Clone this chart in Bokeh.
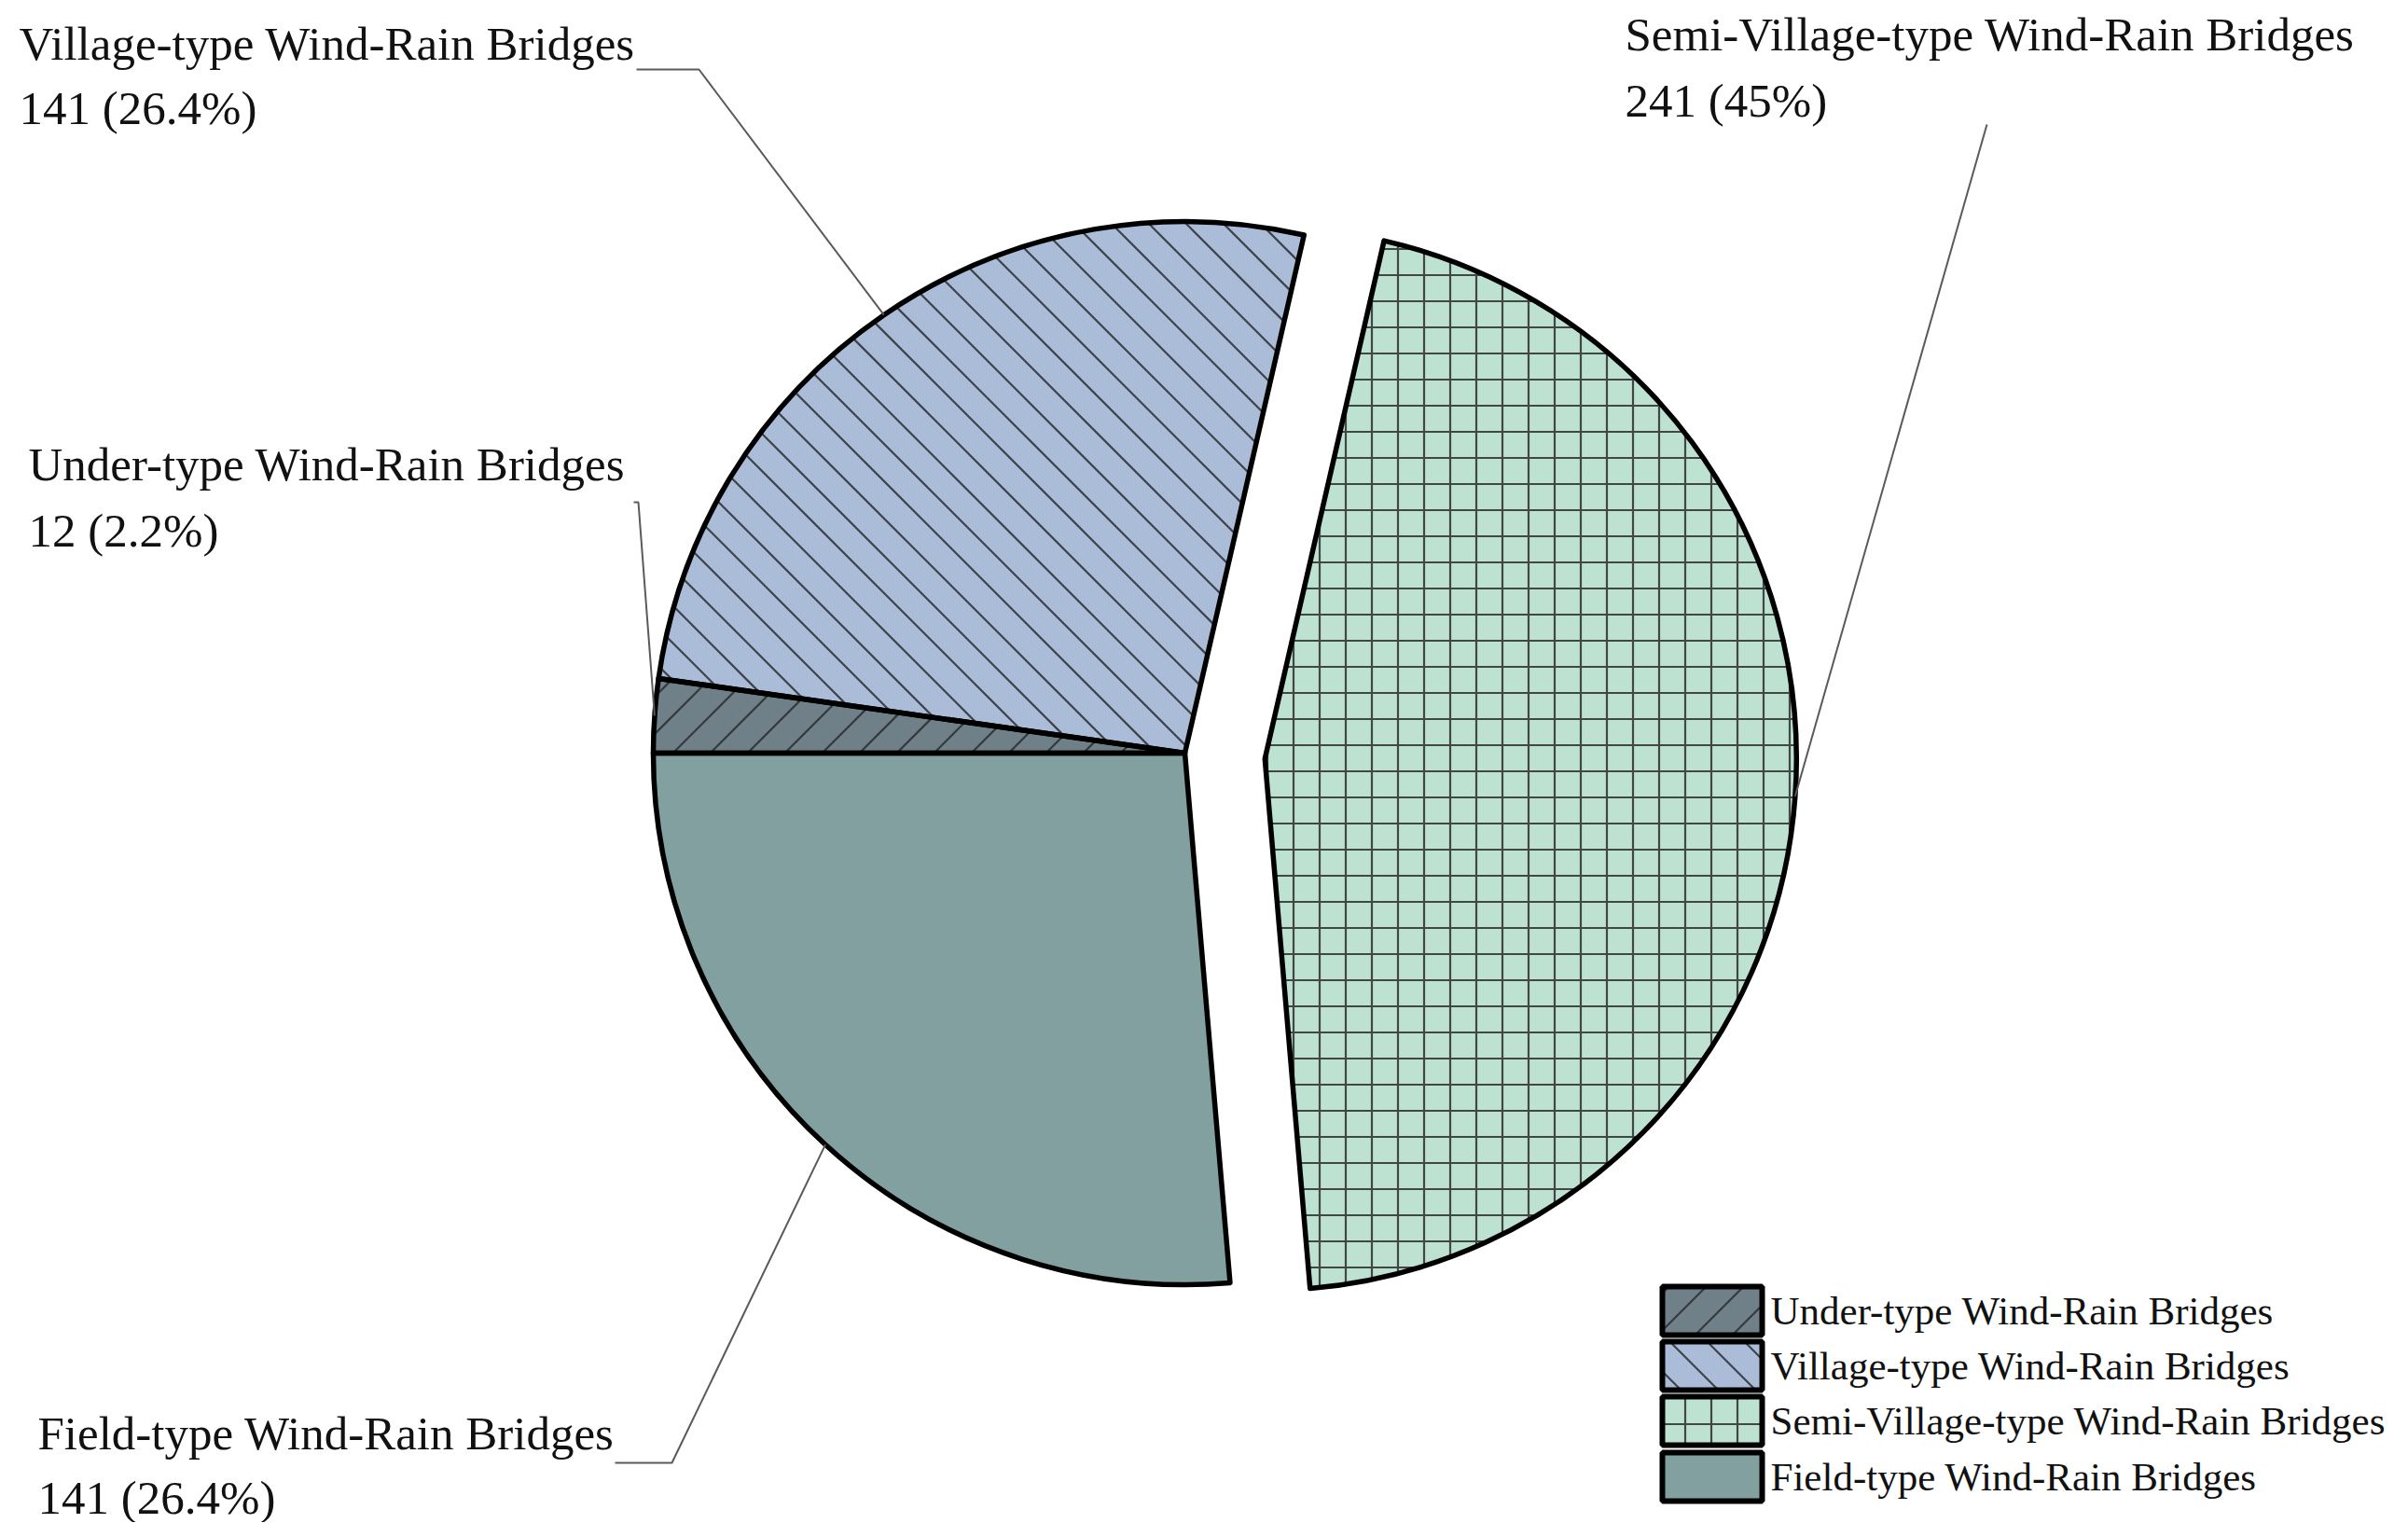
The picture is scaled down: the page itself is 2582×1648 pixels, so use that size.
import math
from bokeh.plotting import figure
from bokeh.models import Range1d, ColumnDataSource
from bokeh.core.properties import value
from bokeh.embed import file_html
from bokeh.resources import INLINE

# ---------------- data ----------------
categories = [
    "Under-type Wind-Rain Bridges",
    "Village-type Wind-Rain Bridges",
    "Semi-Village-type Wind-Rain Bridges",
    "Field-type Wind-Rain Bridges",
]
counts = [12, 141, 241, 141]

# ---------------- styles ----------------
fills = ["#6f8089", "#aabcd8", "#bee2d1", "#83a0a0"]
# hatch kind per slice: "/" and "\" drawn as 45-degree line families, "+" grid
hatch_kind = ["/", "\\", "+", None]
DIAG_SPACING = 40 / math.sqrt(2)   # perpendicular spacing of diagonal hatch
GRID_SCALE = 28
HATCH_COLOR = "#2b2b2b"
HATCH_W = 2.2
explode_px = [0, 0, 86, 0]

FONT = value("Liberation Serif")
LABEL_SIZE = "51px"
LEGEND_SIZE = "43px"

# page geometry (page pixel coords, y down)
CX, CY, R = 1270, 807, 570
W, H = 2566, 1632


def Y(y):
    return 1648 - y


p = figure(width=W, height=H, x_range=Range1d(0, 2566), y_range=Range1d(16, 1648),
           output_backend="svg", toolbar_location=None,
           x_axis_location=None, y_axis_location=None, min_border=0)
p.grid.visible = False
p.outline_line_color = None
p.background_fill_color = "white"
p.border_fill_color = "white"

total = sum(counts)
starts, ends, mids, xs, ys = [], [], [], [], []
a = math.pi
for c, off in zip(counts, explode_px):
    e = a - 2 * math.pi * c / total
    m = (a + e) / 2
    starts.append(a)
    ends.append(e)
    mids.append(m)
    xs.append(CX + off * math.cos(m))
    ys.append(Y(CY) + off * math.sin(m))
    a = e


# ---------- hatch helpers ----------
def clip_t(constraints, t0, t1):
    """constraints: list of (A, B) meaning A + B t >= 0"""
    for A, B in constraints:
        if abs(B) < 1e-12:
            if A < 0:
                return None
            continue
        t = -A / B
        if B > 0:
            t0 = max(t0, t)
        else:
            t1 = min(t1, t)
    if t1 <= t0:
        return None
    return t0, t1


def cross(u, v):
    return u[0] * v[1] - u[1] * v[0]


def diag_family(direction, bbox_center, extent):
    d = (1 / math.sqrt(2), direction / math.sqrt(2))
    n = (-d[1], d[0])
    cn = n[0] * bbox_center[0] + n[1] * bbox_center[1]
    k0 = math.floor((cn - extent) / DIAG_SPACING)
    k1 = math.ceil((cn + extent) / DIAG_SPACING)
    for k in range(k0, k1 + 1):
        off = k * DIAG_SPACING
        yield (n[0] * off, n[1] * off), d


def wedge_hatch(cx, cy, r, a_start, a_end, direction):
    segs_x, segs_y = [], []
    ua = (math.cos(a_start), math.sin(a_start))
    ue = (math.cos(a_end), math.sin(a_end))
    for p0, d in diag_family(direction, (cx, cy), r):
        q = (p0[0] - cx, p0[1] - cy)
        bq = d[0] * q[0] + d[1] * q[1]
        disc = bq * bq - (q[0] ** 2 + q[1] ** 2) + r * r
        if disc <= 0:
            continue
        sq = math.sqrt(disc)
        cons = [(cross(ue, q), cross(ue, d)), (-cross(ua, q), -cross(ua, d))]
        res = clip_t(cons, -bq - sq, -bq + sq)
        if res is None:
            continue
        t0, t1 = res
        segs_x.append([p0[0] + d[0] * t0, p0[0] + d[0] * t1])
        segs_y.append([p0[1] + d[1] * t0, p0[1] + d[1] * t1])
    return segs_x, segs_y


def rect_hatch(x0, x1, y0, y1, direction):
    segs_x, segs_y = [], []
    c = ((x0 + x1) / 2, (y0 + y1) / 2)
    ext = math.hypot(x1 - x0, y1 - y0)
    for p0, d in diag_family(direction, c, ext):
        cons = []
        for axis, lo, hi in ((0, x0, x1), (1, y0, y1)):
            cons.append((p0[axis] - lo, d[axis]))
            cons.append((hi - p0[axis], -d[axis]))
        res = clip_t(cons, -1e6, 1e6)
        if res is None:
            continue
        t0, t1 = res
        segs_x.append([p0[0] + d[0] * t0, p0[0] + d[0] * t1])
        segs_y.append([p0[1] + d[1] * t0, p0[1] + d[1] * t1])
    return segs_x, segs_y


# ---------- pie ----------
src = ColumnDataSource(dict(x=xs, y=ys, start=starts, end=ends, fill=fills,
                            hatch=[("+" if k == "+" else " ") for k in hatch_kind]))
p.wedge(x="x", y="y", radius=R, start_angle="start", end_angle="end",
        direction="clock", source=src, fill_color="fill", line_color=None,
        hatch_pattern="hatch", hatch_scale=GRID_SCALE, hatch_color=HATCH_COLOR,
        hatch_weight=HATCH_W, hatch_alpha=0.85)

hx, hy = [], []
for i, k in enumerate(hatch_kind):
    if k in ("/", "\\"):
        sx, sy = wedge_hatch(xs[i], ys[i], R - 1, starts[i], ends[i], 1 if k == "/" else -1)
        hx += sx
        hy += sy

# legend geometry
leg_rows = [1405, 1464, 1523, 1583]
bx0, bx1, bh = 1782, 1889, 26
for i, k in enumerate(hatch_kind):
    if k in ("/", "\\"):
        r = leg_rows[i]
        sx, sy = rect_hatch(bx0, bx1, Y(r + bh), Y(r - bh), 1 if k == "/" else -1)
        hx += sx
        hy += sy

p.multi_line(xs=hx, ys=hy, line_color=HATCH_COLOR, line_width=HATCH_W,
             line_alpha=0.85, line_cap="butt")

p.wedge(x="x", y="y", radius=R, start_angle="start", end_angle="end",
        direction="clock", source=src, fill_color=None,
        line_color="black", line_width=5.5, line_join="round")

# leader lines (label anchor points, page coords) -> slice edge at mid angle
leader_starts = [
    [(679, 538), (684, 538)],
    [(682, 74), (749, 74)],
    [(2130, 133)],
    [(659, 1568), (720, 1568)],
]
lx, ly = [], []
for i, pts in enumerate(leader_starts):
    ex = xs[i] + R * math.cos(mids[i])
    ey = ys[i] + R * math.sin(mids[i])
    lx.append([pt[0] for pt in pts] + [ex])
    ly.append([Y(pt[1]) for pt in pts] + [ey])
p.multi_line(xs=lx, ys=ly, line_color="#5a5a5a", line_width=2)

# data labels
label_pos = [(30, 497, 568), (20, 46, 115), (1742, 36, 107), (40, 1536, 1605)]
tx, ty, tt = [], [], []
for cat, cnt, (x0, y1, y2) in zip(categories, counts, label_pos):
    pct = round(100 * cnt / total, 1)
    tx += [x0, x0]
    ty += [Y(y1), Y(y2)]
    tt += [cat, f"{cnt} ({pct:g}%)"]
p.text(x=tx, y=ty, text=tt, text_font=FONT, text_font_size=LABEL_SIZE,
       text_color="#111111", text_baseline="middle", text_align="left")

# legend boxes
p.quad(left=[bx0] * 4, right=[bx1] * 4,
       top=[Y(r - bh) for r in leg_rows], bottom=[Y(r + bh) for r in leg_rows],
       fill_color=fills, line_color=None,
       hatch_pattern=[("+" if k == "+" else " ") for k in hatch_kind],
       hatch_scale=GRID_SCALE, hatch_color=HATCH_COLOR,
       hatch_weight=HATCH_W, hatch_alpha=0.85, level="underlay")
p.quad(left=[bx0] * 4, right=[bx1] * 4,
       top=[Y(r - bh) for r in leg_rows], bottom=[Y(r + bh) for r in leg_rows],
       fill_color=None, line_color="black", line_width=6)
p.text(x=[1898] * 4, y=[Y(r) for r in leg_rows], text=categories,
       text_font=FONT, text_font_size=LEGEND_SIZE, text_color="#111111",
       text_baseline="middle", text_align="left")

open("out.html", "w").write(file_html(p, INLINE))
